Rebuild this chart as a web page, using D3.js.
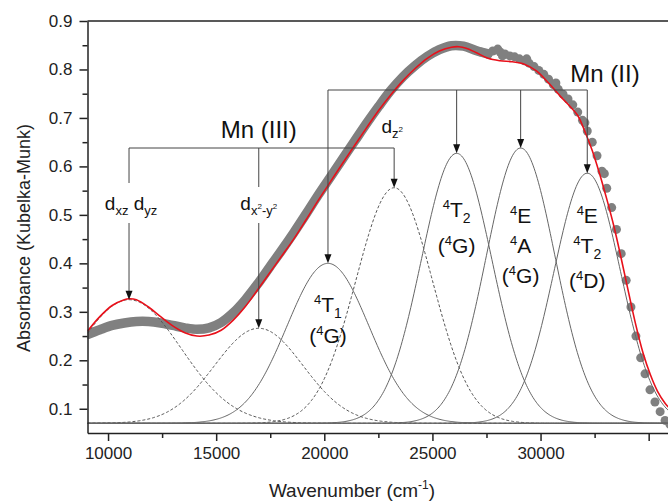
<!DOCTYPE html>
<html><head><meta charset="utf-8">
<script src="https://cdn.jsdelivr.net/npm/d3@7"></script>
<style>body{margin:0;background:#fff}svg{display:block;font-family:"Liberation Sans",Arial,sans-serif}</style>
</head><body><svg id="c" width="668" height="502"></svg>
<script>
// ---------- data ----------
const xTicks = [10000, 15000, 20000, 25000, 30000, 35000];
const xTickLabels = ["10000", "15000", "20000", "25000", "30000", ""];
const xMinorTicks = [12500, 17500, 22500, 27500, 32500];
const yTicks = [0.1, 0.2, 0.3, 0.4, 0.5, 0.6, 0.7, 0.8, 0.9];
const yMinorTicks = [0.15, 0.25, 0.35, 0.45, 0.55, 0.65, 0.75, 0.85];

// fitted bands (peak position cm-1, peak absorbance, gaussian width cm-1)
const bandIds     = ["dxz", "dx2y2", "dz2", "T1", "T2", "EA", "ET2"];
const bandIon     = ["III", "III", "III", "II", "II", "II", "II"];
const bandCenters = [10970, 16970, 23230, 20170, 26120, 29080, 32160];
const bandPeaks   = [0.325, 0.266, 0.556, 0.400, 0.627, 0.638, 0.586];
const bandWidths  = [2410, 2050, 1770, 1900, 1630, 1590, 1540];
const baseline = 0.07;

// experimental spectrum (dense part)
const expX = [9050, 9620, 10190, 10750, 11310, 11870, 12430, 12990, 13550, 14110, 14670, 15230, 15790, 16350, 16910, 17470, 18030, 18600, 19160, 19720, 20280, 20840, 21400, 21960, 22520, 23080, 23640, 24200, 24760, 25320, 25880, 26440, 27010, 27570];
const expY = [0.253, 0.263, 0.272, 0.277, 0.280, 0.280, 0.277, 0.272, 0.267, 0.264, 0.267, 0.278, 0.298, 0.325, 0.357, 0.392, 0.427, 0.464, 0.502, 0.541, 0.578, 0.615, 0.652, 0.689, 0.724, 0.757, 0.785, 0.808, 0.827, 0.841, 0.849, 0.848, 0.839, 0.832];
// experimental spectrum (scattered part)
const dotX = [27230, 27570, 27790, 28020, 28130, 28350, 28580, 28800, 29020, 29250, 29470, 29700, 29920, 30150, 30370, 30590, 30820, 31040, 31270, 31490, 31720, 31940, 32160, 32390, 32610, 32840, 33060, 33290, 33510, 33730, 33960, 34180, 34410, 34630, 34830, 35060, 35290, 35530, 35760, 35980, 28240, 29360, 30710, 32050, 32950];
const dotY = [0.836, 0.832, 0.838, 0.842, 0.836, 0.832, 0.828, 0.826, 0.822, 0.818, 0.813, 0.806, 0.798, 0.790, 0.780, 0.769, 0.759, 0.749, 0.739, 0.727, 0.712, 0.695, 0.673, 0.650, 0.622, 0.590, 0.555, 0.515, 0.470, 0.420, 0.365, 0.310, 0.250, 0.205, 0.172, 0.139, 0.114, 0.094, 0.076, 0.068, 0.828, 0.822, 0.772, 0.690, 0.585];

// fit (red)
const fitX = [9050, 9620, 10190, 10750, 10970, 11310, 11870, 12430, 12990, 13550, 14110, 14670, 15230, 15790, 16350, 16910, 17470, 18030, 18600, 19160, 19720, 20280, 20840, 21400, 21960, 22520, 23080, 23640, 24200, 24760, 25320, 25880, 26220, 26560, 27010, 27570, 28130, 28690, 29250, 29810, 30370, 30930, 31380, 31720, 32050, 32390, 32730, 33060, 33400, 33730, 34070, 34410, 34740, 35080, 35410, 35750, 36090];
const fitY = [0.260, 0.290, 0.313, 0.325, 0.327, 0.325, 0.310, 0.290, 0.271, 0.257, 0.250, 0.252, 0.262, 0.283, 0.311, 0.345, 0.380, 0.415, 0.451, 0.490, 0.530, 0.568, 0.606, 0.643, 0.680, 0.716, 0.748, 0.777, 0.802, 0.823, 0.838, 0.846, 0.847, 0.844, 0.835, 0.823, 0.818, 0.816, 0.811, 0.797, 0.772, 0.744, 0.723, 0.705, 0.672, 0.633, 0.585, 0.533, 0.475, 0.410, 0.340, 0.272, 0.215, 0.170, 0.136, 0.112, 0.095];

// ---------- layout ----------
const svg = d3.select("#c");
const L = 87.5, R = 670.3, T = 21, B = 433;
const x = d3.scaleLinear().domain([9050, 36000]).range([L, R]);
const y = d3.scaleLinear().domain([0.05, 0.9]).range([B, T]);

svg.append("defs").append("clipPath").attr("id", "clip")
  .append("rect").attr("x", L).attr("y", T).attr("width", R - L).attr("height", B - T);
const plot = svg.append("g").attr("clip-path", "url(#clip)");

// baseline
plot.append("line").attr("x1", L).attr("x2", R).attr("y1", y(baseline)).attr("y2", y(baseline))
  .attr("stroke", "#b0b0b0").attr("stroke-width", 1.5);

// experimental band
const expPts = expX.map((v, i) => [v, expY[i]]);
plot.append("path").datum(expPts)
  .attr("d", d3.line().x(d => x(d[0])).y(d => y(d[1])).curve(d3.curveCatmullRom))
  .attr("fill", "none").attr("stroke", "#808080").attr("stroke-width", 9.5).attr("stroke-linecap", "round");
plot.selectAll("circle.dot").data(dotX.map((v, i) => [v, dotY[i]])).join("circle")
  .attr("cx", d => x(d[0])).attr("cy", d => y(d[1])).attr("r", 4.5).attr("fill", "#808080");

// gaussian bands
const grid = d3.range(9050, 36001, 50);
bandIds.forEach((id, i) => {
  const A = bandPeaks[i] - baseline, c = bandCenters[i], s = bandWidths[i];
  const pts = grid.map(g => [g, baseline + A * Math.exp(-((g - c) ** 2) / (2 * s * s))]);
  plot.append("path").datum(pts)
    .attr("d", d3.line().x(d => x(d[0])).y(d => y(d[1])))
    .attr("fill", "none")
    .attr("stroke", bandIon[i] === "III" ? "#555" : "#666")
    .attr("stroke-width", 1)
    .attr("stroke-dasharray", bandIon[i] === "III" ? "3,2" : null);
});

// fit
plot.append("path").datum(fitX.map((v, i) => [v, fitY[i]]))
  .attr("d", d3.line().x(d => x(d[0])).y(d => y(d[1])).curve(d3.curveCatmullRom))
  .attr("fill", "none").attr("stroke", "#e8101a").attr("stroke-width", 1.6);

// ---------- axes ----------
const axCol = "#222";
svg.append("g").attr("transform", `translate(0,${B})`)
  .call(d3.axisBottom(x).tickValues(xTicks).tickSize(8).tickSizeOuter(0).tickPadding(6)
    .tickFormat((d, i) => xTickLabels[i]));
svg.append("g").attr("transform", `translate(0,${B})`)
  .call(d3.axisBottom(x).tickValues(xMinorTicks).tickSize(5).tickSizeOuter(0).tickFormat(""))
  .select(".domain").remove();
svg.append("g").attr("transform", `translate(${L},0)`)
  .call(d3.axisLeft(y).tickValues(yTicks).tickSize(8).tickSizeOuter(0).tickPadding(7).tickFormat(d3.format(".1f")));
svg.append("g").attr("transform", `translate(${L},0)`)
  .call(d3.axisLeft(y).tickValues(yMinorTicks).tickSize(5).tickSizeOuter(0).tickFormat(""))
  .select(".domain").remove();
svg.selectAll(".domain, .tick line").attr("stroke", axCol).attr("stroke-width", 1.5);
svg.selectAll(".tick text").attr("font-size", 17).attr("fill", "#222").attr("font-family", "Liberation Sans, Arial, sans-serif");
svg.append("line").attr("x1", L).attr("x2", R).attr("y1", T).attr("y2", T).attr("stroke", axCol).attr("stroke-width", 1.5);

svg.append("text").attr("transform", "translate(30,238) rotate(-90)").attr("text-anchor", "middle")
  .attr("font-size", 18).attr("fill", "#222").text("Absorbance (Kubelka-Munk)");
const xl = svg.append("text").attr("x", 352).attr("y", 497).attr("text-anchor", "middle").attr("font-size", 19).attr("fill", "#222");
xl.append("tspan").text("Wavenumber (cm");
xl.append("tspan").attr("font-size", 12).attr("dy", -8).text("-1");
xl.append("tspan").attr("dy", 8).text(")");

// ---------- annotations ----------
const ann = svg.append("g").attr("stroke", "#444").attr("stroke-width", 1).attr("fill", "none");
const bx = id => x(bandCenters[bandIds.indexOf(id)]);
const by = id => y(bandPeaks[bandIds.indexOf(id)]);
function arrow(xp, yTop, yTip) {
  ann.append("line").attr("x1", xp).attr("x2", xp).attr("y1", yTop).attr("y2", yTip - 6);
  svg.append("path").attr("d", `M${xp},${yTip} L${xp - 3.5},${yTip - 9} L${xp + 3.5},${yTip - 9} Z`).attr("fill", "#111");
}
function seg(x1, y1, x2, y2) { ann.append("line").attr("x1", x1).attr("y1", y1).attr("x2", x2).attr("y2", y2); }

const yIII = 148, yII = 90;
seg(bx("dxz"), yIII, bx("dz2"), yIII);
seg(bx("dxz"), yIII, bx("dxz"), 183); arrow(bx("dxz"), 223, by("dxz"));
seg(bx("dx2y2"), yIII, bx("dx2y2"), 187); arrow(bx("dx2y2"), 223, by("dx2y2"));
arrow(bx("dz2"), yIII, by("dz2"));

seg(bx("T1"), yII, bx("ET2"), yII);
["T1", "T2", "EA", "ET2"].forEach(id => arrow(bx(id), yII, by(id)));

function lbl(xc, yb, parts, size) {
  const t = svg.append("text").attr("x", xc).attr("y", yb).attr("text-anchor", "middle")
    .attr("font-size", size).attr("fill", "#111");
  parts.forEach(p => t.append("tspan").attr("font-size", p[1]).attr("dy", p[2]).text(p[0]));
}
svg.append("text").attr("x", bx("dx2y2")).attr("y", 138).attr("text-anchor", "middle").attr("font-size", 24).attr("fill", "#111").text("Mn (III)");
svg.append("text").attr("x", 605).attr("y", 82).attr("text-anchor", "middle").attr("font-size", 24).attr("fill", "#111").text("Mn (II)");

lbl(bx("dxz") + 2, 210, [["d", 19, 0], ["xz", 13, 5], [" d", 19, -5], ["yz", 13, 5]], 19);
lbl(bx("dx2y2"), 210, [["d", 19, 0], ["x", 13, 5], ["2", 8, -6], ["-y", 13, 6], ["2", 8, -6]], 19);
lbl(bx("dz2") - 2, 133, [["d", 19, 0], ["z", 13, 5], ["2", 8, -6]], 19);

const sup = s => [s, 13, -8], big = (s, d) => [s, 21, d], sub = s => [s, 14, 6];
lbl(bx("T1"), 312, [sup("4"), big("T", 8), sub("1")], 21);
lbl(bx("T1"), 343, [big("(", 0), sup("4"), big("G)", 8)], 21);
lbl(bx("T2"), 217, [sup("4"), big("T", 8), sub("2")], 21);
lbl(bx("T2"), 253, [big("(", 0), sup("4"), big("G)", 8)], 21);
lbl(bx("EA"), 223, [sup("4"), big("E", 8)], 21);
lbl(bx("EA"), 253, [sup("4"), big("A", 8)], 21);
lbl(bx("EA"), 283, [big("(", 0), sup("4"), big("G)", 8)], 21);
lbl(bx("ET2"), 223, [sup("4"), big("E", 8)], 21);
lbl(bx("ET2"), 253, [sup("4"), big("T", 8), sub("2")], 21);
lbl(bx("ET2"), 288, [big("(", 0), sup("4"), big("D)", 8)], 21);
</script></body></html>
